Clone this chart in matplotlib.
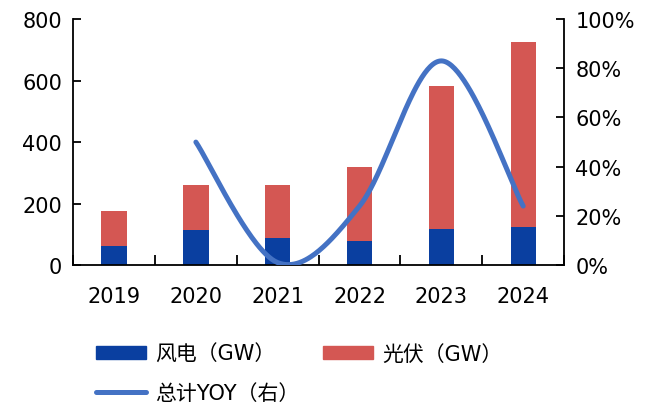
import numpy as np
import matplotlib
matplotlib.use("Agg")
import matplotlib.pyplot as plt
from matplotlib.patches import Patch
from matplotlib.lines import Line2D

plt.rcParams['font.family'] = ['DejaVu Sans', 'Noto Sans CJK SC']

years = ['2019', '2020', '2021', '2022', '2023', '2024']
wind = [62, 114, 89, 78, 118, 124]
solar = [113, 146, 173, 240, 465, 601]
yoy_years = ['2020', '2021', '2022', '2023', '2024']
yoy = [0.50, 0.01, 0.24, 0.83, 0.24]

wind_c = '#0A3FA0'
solar_c = '#D45753'
line_c = '#4472C4'

fig = plt.figure(figsize=(6.59, 4.10), dpi=100)
ax = fig.add_axes([0.111, 0.351, 0.745, 0.600])
x = np.arange(len(years))
w = 0.31
ax.bar(x, wind, w, color=wind_c, zorder=2)
ax.bar(x, solar, w, bottom=wind, color=solar_c, zorder=2)
ax.set_xlim(-0.5, len(years) - 0.5)
ax.set_ylim(0, 800)
ax.set_yticks([0, 200, 400, 600, 800])
ax.set_xticks(x)
ax.set_xticklabels(years)
ax.set_xticks(np.arange(-0.5, len(years)), minor=True)
ax.tick_params(axis='x', which='major', length=0, pad=15, labelsize=15)
ax.tick_params(axis='x', which='minor', direction='in', length=7, width=1.3)
ax.tick_params(axis='y', direction='in', length=6, width=1.3, labelsize=15, pad=8)
ax.spines['top'].set_visible(False)
ax.spines['right'].set_visible(False)
for s in ['left', 'bottom']:
    ax.spines[s].set_linewidth(1.3)

ax2 = ax.twinx()
ax2.set_ylim(0, 1.0)
ax2.set_yticks([0, 0.2, 0.4, 0.6, 0.8, 1.0])
ax2.set_yticklabels(['0%', '20%', '40%', '60%', '80%', '100%'])
ax2.tick_params(axis='y', direction='in', length=6, width=1.3, labelsize=15, pad=8)
for s in ['top', 'left', 'bottom']:
    ax2.spines[s].set_visible(False)
ax2.spines['right'].set_linewidth(1.3)

# smoothed line (Excel-like Bezier smoothing through the data points)
px = np.array([years.index(y) for y in yoy_years], dtype=float)
py = np.array(yoy, dtype=float)
P = np.column_stack([px, py])
pts = []
n = len(P)
for i in range(n - 1):
    p0 = P[i - 1] if i > 0 else P[i]
    p1 = P[i]
    p2 = P[i + 1]
    p3 = P[i + 2] if i + 2 < n else P[i + 1]
    c1 = p1 + (p2 - p0) / 6
    c2 = p2 - (p3 - p1) / 6
    t = np.linspace(0, 1, 60)[:, None]
    seg = ((1 - t) ** 3) * p1 + 3 * ((1 - t) ** 2) * t * c1 + 3 * (1 - t) * t ** 2 * c2 + t ** 3 * p2
    pts.append(seg if i == 0 else seg[1:])
curve = np.vstack(pts)
ax2.plot(curve[:, 0], curve[:, 1], color=line_c, lw=3.6, solid_capstyle='round', zorder=3)

h_wind = Patch(color=wind_c)
h_solar = Patch(color=solar_c)
h_yoy = Line2D([0], [0], color=line_c, lw=3.6, solid_capstyle='round')
handles = [h_wind, h_yoy, h_solar]
labels = ['风电（GW）', '总计YOY（右）', '光伏（GW）']
fig.legend(handles, labels, ncol=2, loc='upper left', bbox_to_anchor=(0.146, 0.16),
           frameon=False, fontsize=15, handlelength=2.4, handleheight=0.6,
           handletextpad=0.45, columnspacing=1.1, labelspacing=0.95,
           borderaxespad=0, borderpad=0)

fig.savefig('out.png', dpi=100)
